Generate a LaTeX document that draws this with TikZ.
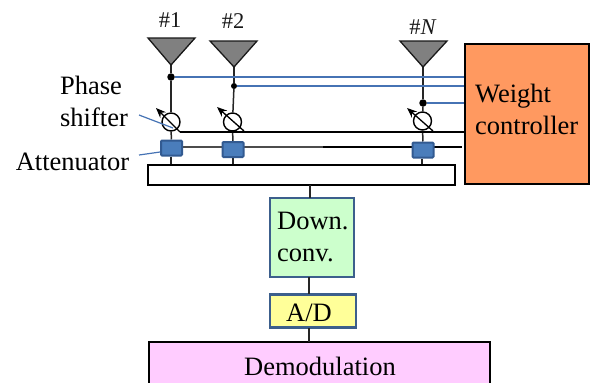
\documentclass[tikz,border=0pt]{standalone}
\usepackage{fontspec}
\setmainfont{Liberation Serif}
\usetikzlibrary{arrows.meta,backgrounds}
\definecolor{bluewire}{RGB}{70,115,180}
\definecolor{attfill}{RGB}{74,125,187}
\definecolor{attedge}{RGB}{50,90,145}
\definecolor{antgray}{RGB}{128,128,128}
\definecolor{wcfill}{RGB}{255,153,96}
\definecolor{dcfill}{RGB}{204,255,204}
\definecolor{adfill}{RGB}{255,255,153}
\definecolor{demfill}{RGB}{255,204,255}
\definecolor{boxedge}{RGB}{60,95,140}
\tikzset{
  lbl/.style={inner sep=0pt,font=\fontsize{26.5}{30}\selectfont,text=black},
  idlbl/.style={inner sep=0pt,font=\fontsize{22.5}{26}\selectfont,text=black!90},
  ant/.style={draw=black!90,line width=1.3pt,fill=antgray,line join=miter},
  wire/.style={draw=black!85,line width=1.5pt},
  ctrl/.style={draw=black,line width=1.6pt},
  grayw/.style={draw=black!70,line width=1.5pt},
  bluew/.style={draw=bluewire,line width=1.5pt},
  junction/.style={circle,fill=black,inner sep=0pt,minimum size=7.5pt},
  junctionsm/.style={circle,fill=black,inner sep=0pt,minimum size=6pt},
  shifter/.style={circle,draw=black,fill=white,line width=1.4pt,inner sep=0pt,minimum size=18pt},
  atten/.style={rectangle,draw=attedge,fill=attfill,line width=2pt,inner sep=0pt,minimum width=21pt,minimum height=15pt,rounded corners=1pt},
  blockb/.style={rectangle,draw=black,line width=1.4pt,inner sep=0pt},
  blockc/.style={rectangle,draw=boxedge,line width=1.8pt,inner sep=0pt},
  tune/.style={draw=black,line width=1.3pt,-{Stealth[length=10pt,width=8pt]}},
}
\begin{document}
\begin{tikzpicture}[x=1pt,y=-1pt]
\useasboundingbox (0,0) rectangle (590,383);
\clip (0,0) rectangle (590,383);
% blocks
\node[blockb,fill=white,minimum width=307pt,minimum height=20pt] (bus) at (301.5,175) {};
\node[blockb,fill=wcfill,minimum width=124pt,minimum height=140pt] (wc) at (527,114) {};
\node[blockc,fill=dcfill,minimum width=84pt,minimum height=79pt] (dc) at (312,237.5) {};
\node[blockc,fill=adfill,minimum width=86pt,minimum height=33pt,line width=2.4pt] (ad) at (313,311) {};
\node[blockb,fill=demfill,minimum width=341pt,minimum height=70pt] (dem) at (319.5,377) {};
% antennas
\coordinate (a1) at (171,65);
\coordinate (a2) at (234,67);
\coordinate (aN) at (423,67);
\path[ant] (148,38) -- (195,38) -- (a1) -- cycle;
\path[ant] (210,41) -- (257,41) -- (a2) -- cycle;
\path[ant] (400,41) -- (447,41) -- (aN) -- cycle;
% components
\node[junction] (j1) at (171,77) {};
\node[junctionsm] (j2) at (234,86) {};
\node[junction] (jN) at (423,103) {};
\node[shifter] (p1) at (171,122) {};
\node[shifter] (p2) at (232.5,122) {};
\node[shifter] (pN) at (422.5,121) {};
\node[atten] (t1) at (171.5,148) {};
\node[atten] (t2) at (233,149.5) {};
\node[atten] (tN) at (423,150) {};
% free ends
\coordinate (w1) at (j1 -| wc.west);
\coordinate (w2) at (j2 -| wc.west);
\coordinate (wN) at (jN -| wc.west);
\coordinate (c1) at (180,132);
\coordinate (c2) at (244,131);
\coordinate (cN) at (433,131);
\coordinate (w4) at (c1 -| wc.west);
\coordinate (w5) at (462,147);
\coordinate (gs) at (323,147);
\coordinate (b1) at (171,165);
\coordinate (b2) at (233,165);
\coordinate (bN) at (422,165);
\coordinate (u1) at (156,108);
\coordinate (u2) at (217,107);
\coordinate (uN) at (407,108);
\coordinate (l1) at (139,115);
\coordinate (l1e) at (173,128);
\coordinate (l2) at (139,155);
\coordinate (sb) at (310,185);
\coordinate (sd) at (310,198);
\coordinate (se) at (309,277);
\coordinate (sf) at (309,294);
\coordinate (sg) at (309,328);
\coordinate (sh) at (309,342);
\begin{scope}[on background layer]
\draw[wire] (a1) -- (j1);
\draw[wire] (j1) -- (p1);
\draw[wire] (a2) -- (j2);
\draw[wire] (j2) -- (p2);
\draw[wire] (aN) -- (jN);
\draw[wire] (jN) -- (pN);
\draw[bluew] (j1) -- (w1);
\draw[bluew] (j2) -- (w2);
\draw[bluew] (jN) -- (wN);
\draw[wire] (p1) -- (t1);
\draw[wire] (p2) -- (t2);
\draw[wire] (pN) -- (tN);
\draw[ctrl] (c1) -- (w4);
\draw[grayw] (t1 |- gs) -- (gs);
\draw[ctrl] (gs) -- (w5);
\draw[wire] (b1 |- t1.south) -- (b1);
\draw[wire] (b2 |- t2.south) -- (b2);
\draw[wire] (bN |- tN.south) -- (bN);
\end{scope}
\draw[wire] (sb) -- (sd);
\draw[wire] (se) -- (sf);
\draw[wire] (sg) -- (sh);
% tuning arrows
\draw[tune] (c1) -- (u1);
\draw[tune] (c2) -- (u2);
\draw[tune] (cN) -- (uN);
% leaders
\draw[bluew,line width=1.2pt] (l1) -- (l1e);
\draw[bluew,line width=1.2pt] (l2) -- (t1.west |- 0,152);
% labels
\node[idlbl,anchor=base] (n1) at (170,27) {\#1};
\node[idlbl,anchor=base] (n2) at (233,28) {\#2};
\node[idlbl,anchor=base] (nN) at (423,34) {\#\textit{N}};
\node[lbl,anchor=base] (tp) at (91,94) {Phase};
\node[lbl,anchor=base] (ts) at (94,126) {shifter};
\node[lbl,anchor=base] (ta) at (72.5,170) {Attenuator};
\node[lbl,anchor=base west] (tw) at (475,102) {Weight};
\node[lbl,anchor=base west] (tc) at (475,134) {controller};
\node[lbl,anchor=base west] (td) at (277,229) {Down.};
\node[lbl,anchor=base west] (tv) at (277,261) {conv.};
\node[lbl,anchor=base] (tad) at (309,321) {A/D};
\node[lbl,anchor=base] (tdem) at (320,375) {Demodulation};
\end{tikzpicture}
\end{document}
